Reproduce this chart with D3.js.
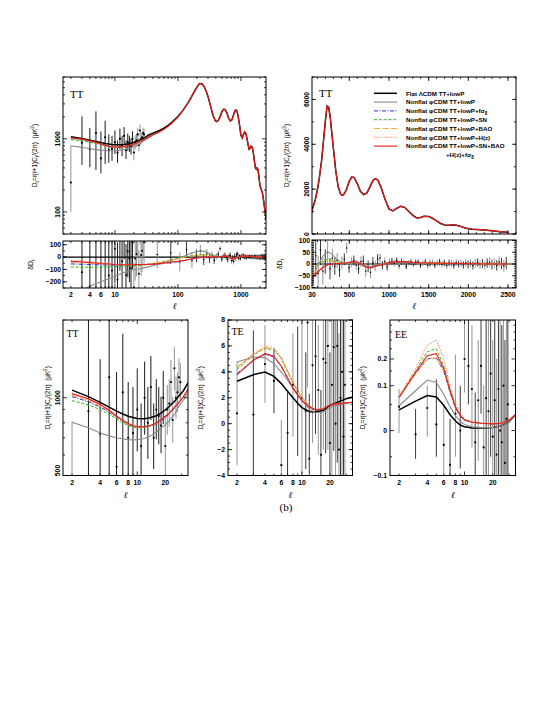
<!DOCTYPE html>
<html><head><meta charset="utf-8">
<script src="https://cdn.jsdelivr.net/npm/d3@7"></script>
<style>body{margin:0;background:#fff}</style>
</head><body>
<script>
// ---------------- DATA ----------------
const modelKeys = ['flat','gray','fs8','sn','bao','hz','all'];
const legendLabels = ['Flat ΛCDM TT+lowP','Nonflat φCDM TT+lowP','Nonflat φCDM TT+lowP+fσ8','Nonflat φCDM TT+lowP+SN','Nonflat φCDM TT+lowP+BAO','Nonflat φCDM TT+lowP+H(z)','Nonflat φCDM TT+lowP+SN+BAO'];
const legendExtra = '+H(z)+fσ8';

// full-range TT spectra (flat LCDM and joint fit)
const ttEll = [2,3,4,5,6,7,8,9,10,12,14,16,18,20,22,25,28,31,35,40,50,60,70,80,100,120,150,180,200,220,240,260,280,300,330,360,390,410,430,460,500,530,560,600,640,680,720,760,800,830,860,900,950,1000,1050,1100,1150,1200,1250,1300,1350,1400,1440,1500,1550,1600,1650,1700,1750,1800,1850,1900,1950,2000,2050,2100,2200,2300,2400,2500];
const ttFlat = [1070,1010,960,920,888,865,848,838,832,830,838,852,872,898,925,968,1015,1060,1140,1190,1290,1400,1530,1680,2020,2450,3250,4350,5100,5700,5650,5200,4500,3800,2800,2100,1780,1720,1760,1950,2350,2540,2520,2250,1900,1760,1820,2100,2400,2470,2400,2080,1550,1120,1030,1150,1240,1180,1000,830,720,740,790,780,700,580,470,400,385,400,390,340,280,235,215,205,180,140,105,80];
const ttAll = [1035,991,942,895,850,818,795,780,772,773,783,800,822,848,872,918,962,1005,1077,1135,1240,1355,1488,1642,1985,2425,3235,4342,5100,5700,5650,5200,4500,3800,2800,2100,1780,1720,1760,1950,2350,2540,2520,2250,1900,1760,1820,2100,2400,2470,2400,2080,1550,1120,1030,1150,1240,1180,1000,830,720,740,790,780,700,580,470,400,385,400,390,340,280,235,215,205,180,140,105,80];

// low-l TT spectra of the other models
const ttLowEll = [2,3,4,5,6,7,8,9,10,12,14,16,18,20,22,25,28,31,35,40,50,60,80,100];
const ttGray = [804,765,730,712,700,693,688,687,688,695,712,735,760,787,815,860,930,975,1045,1120,1235,1355,1655,2010];
const ttFs8  = [1010,965,920,878,840,810,790,778,772,770,778,794,815,840,866,910,955,1000,1080,1132,1235,1348,1635,1982];
const ttSn   = [975,938,900,862,828,800,782,770,765,766,778,795,818,845,870,915,960,1003,1078,1140,1250,1368,1662,2012];
const ttBao  = [1020,975,930,885,845,812,790,776,770,772,782,799,821,847,872,917,962,1005,1080,1138,1247,1365,1658,2008];
const ttHz   = [1042,985,938,890,848,815,793,779,771,772,782,799,821,847,871,916,961,1004,1077,1133,1237,1352,1640,1986];

// low-l TT data
const lowEll = [2,3,4,5,6,7,8,9,10,11,12,13,14,15,16,17,18,19,20,21,22,23,24,25,26,27,28,29];
const ttDataVal = [253,887,726,1200,540,1050,700,730,900,650,1000,800,1100,700,900,850,780,1000,650,900,950,1150,820,1300,1000,1050,1200,1150];
const ttDataLo  = [100,440,408,375,337,453,470,500,620,470,720,580,820,530,690,660,610,790,510,720,770,940,670,1070,830,880,1000,970];
const ttDataHi  = [810,2025,1410,2374,1260,1769,1150,1100,1300,950,1380,1100,1450,950,1180,1100,1010,1270,850,1120,1180,1400,1010,1570,1210,1250,1420,1360];
// low-l TT residuals w.r.t. flat LCDM
const lowResVal = [-817,-123,-234,280,-348,185,-148,-108,68,-181,170,-34,262,-145,48,-12,-92,115,-248,-11,25,211,-134,332,16,51,185,120];
const lowResLo  = [-970,-570,-552,-545,-551,-412,-378,-338,-212,-361,-110,-254,-18,-315,-162,-202,-262,-95,-388,-191,-155,1,-284,102,-154,-119,-15,-60];
const lowResHi  = [-260,1015,450,1454,372,904,302,262,468,119,550,266,612,105,328,238,138,385,-48,209,255,461,56,602,226,251,405,330];

// binned high-l TT residuals
const binEll = [47,77,107,137,167,197,227,257,287,317,347,377,407,437,467,497,527,557,587,617,647,677,707,737,767,797,827,857,887,917,947,977,1007,1037,1067,1097,1127,1157,1187,1217,1247,1277,1307,1337,1367,1397,1427,1457,1487,1517,1547,1577,1607,1637,1667,1697,1727,1757,1787,1817,1847,1877,1907,1937,1967,1997,2027,2057,2087,2117,2147,2177,2207,2237,2267,2297,2327,2357,2387,2417,2447,2477];
const binRes = [20,35,-40,60,-30,10,50,-20,25,-10,15,-25,5,20,68,-15,8,15,-5,-20,10,12,-30,-10,-35,5,-8,20,25,-5,10,-12,8,12,3,15,-8,10,6,-10,4,8,-3,7,10,-5,3,8,-6,2,6,-4,3,8,-2,4,-7,5,2,-5,6,0,3,-4,5,-2,4,-6,3,6,-3,2,-5,4,7,-2,3,-6,9,2,-8,4];
const binErr = [110,90,75,65,58,52,48,45,40,36,32,30,27,25,23,22,21,21,22,22,23,24,24,25,25,24,23,22,20,18,17,16,15,14,14,13,13,13,12,12,12,12,12,12,12,12,12,12,13,13,13,13,13,14,14,14,14,14,15,15,15,15,16,16,16,17,17,17,18,18,18,19,19,20,20,21,22,22,23,24,25,26];

// model residuals (delta D_l w.r.t. flat LCDM)
const resEll = [2,3,4,5,6,8,10,13,16,20,25,30,40,50,60,80,100,130,160,200,240,280,330,400,470,550,600,650,700,760,820,900,1000,1100,1200,1300,1400,1500,1700,1900,2100,2300,2500];
const resGray = [-300,-265,-235,-215,-200,-175,-155,-130,-115,-103,-95,-85,-70,-55,-45,-25,-10,10,30,45,50,42,25,8,0,8,8,2,-8,-12,-6,0,5,8,7,5,3,2,1,1,0,0,0];
const resFs8 = [-55,-58,-60,-62,-63,-64,-64,-63,-62,-61,-60,-60,-58,-55,-52,-45,-38,-28,-18,-8,-2,0,1,2,4,8,6,-1,-13,-18,-11,-4,5,9,9,6,4,3,2,1,1,0,0];
const resSn  = [-80,-82,-83,-83,-82,-80,-77,-74,-72,-70,-67,-63,-52,-44,-36,-22,-10,3,12,18,20,16,10,4,4,9,7,0,-12,-17,-10,-3,6,10,10,7,5,4,3,2,1,0,0];
const resBao = [-40,-44,-48,-52,-55,-58,-60,-61,-61,-60,-60,-60,-53,-45,-38,-24,-13,0,8,14,15,12,7,3,4,9,7,0,-12,-17,-10,-3,6,10,10,7,5,4,3,2,1,0,0];
const resHz  = [-28,-33,-38,-43,-47,-53,-57,-60,-61,-61,-60,-60,-57,-53,-48,-40,-34,-25,-16,-7,-1,0,1,3,5,10,8,0,-12,-17,-10,-3,6,10,10,7,5,4,3,2,1,0,0];
const resAll = [-35,-40,-45,-48,-52,-56,-60,-62,-62,-61,-60,-60,-57,-53,-48,-40,-34,-25,-16,-7,-1,0,1,3,5,10,8,0,-12,-17,-10,-3,6,10,10,7,5,4,3,2,1,0,0];

// TE low-l
const teEll = [2,3,4,5,6,7,8,9,10,12,14,17,20,25,30,35];
const teFlat = [3.27,3.78,3.98,3.65,3.09,2.5,2.0,1.58,1.24,0.92,0.9,1.03,1.41,1.7,1.93,2.05];
const teGray = [4.76,5.14,5.1,4.63,3.98,3.35,2.78,2.25,1.8,1.12,0.84,0.9,1.26,1.45,1.6,1.65];
const teFs8  = [3.85,4.9,5.35,5.15,4.4,3.5,2.72,2.18,1.78,1.28,1.04,1.14,1.44,1.55,1.6,1.65];
const teSn   = [4.2,5.3,5.8,5.7,5.0,4.0,3.15,2.5,2.0,1.35,1.05,1.15,1.45,1.55,1.6,1.65];
const teBao  = [4.3,5.35,5.85,5.75,5.05,4.05,3.2,2.52,2.02,1.36,1.06,1.15,1.45,1.55,1.6,1.65];
const teHz   = [4.35,5.4,5.95,5.85,5.1,4.1,3.25,2.55,2.05,1.37,1.06,1.15,1.45,1.55,1.6,1.65];
const teAll  = [3.78,4.89,5.4,5.2,4.43,3.55,2.75,2.2,1.8,1.3,1.05,1.15,1.45,1.55,1.6,1.65];
const teDataVal = [0.8,0.7,4.6,3.3,-3.2,-0.7,3.0,2.5,2.0,1.0,7.8,-2.7,4.5,5.2,2.6,-2.4,5.0,4.7,6.0,-1.5,3.0,5.9,0.0,6.0,-2.0,2.0,4.0,-1.0,3.0];
const teDataErr = [4.0,6.5,3.0,2.5,3.5,3.3,4.0,5.0,6.0,4.5,5.0,5.0,6.0,6.0,5.0,5.0,7.0,7.0,8.0,7.0,8.0,8.0,8.0,9.0,9.0,9.0,10.0,10.0,10.0];
const teDataEll = [2,3,4,5,6,7,8,9,10,11,11.5,12,13,14,15,16,17,18,19,20,21,22,23,24,25,26,27,28,29];

// EE low-l
const eeEll = [2,3,4,5,6,7,8,9,10,12,15,20,25,30,35];
const eeFlat = [0.038,0.058,0.072,0.068,0.048,0.028,0.016,0.009,0.006,0.004,0.004,0.005,0.008,0.015,0.028];
const eeGray = [0.047,0.085,0.118,0.11,0.075,0.045,0.026,0.015,0.010,0.006,0.005,0.005,0.008,0.015,0.028];
const eeFs8  = [0.067,0.14,0.20,0.205,0.15,0.08,0.042,0.025,0.018,0.014,0.012,0.011,0.012,0.018,0.028];
const eeSn   = [0.068,0.15,0.235,0.25,0.17,0.09,0.046,0.027,0.019,0.014,0.012,0.011,0.012,0.018,0.028];
const eeBao  = [0.066,0.14,0.20,0.205,0.15,0.085,0.045,0.027,0.019,0.014,0.012,0.011,0.012,0.018,0.028];
const eeHz   = [0.07,0.16,0.27,0.30,0.20,0.10,0.05,0.03,0.02,0.015,0.013,0.011,0.012,0.018,0.028];
const eeAll  = [0.067,0.145,0.215,0.225,0.16,0.085,0.044,0.026,0.018,0.014,0.012,0.011,0.012,0.018,0.028];
const eeDataVal = [0.045,-0.006,0.042,0.01,-0.025,-0.07,0.03,0.0,0.2,0.17,0.09,-0.02,0.06,0.17,-0.03,0.065,0.035,0.14,-0.01,0.06,-0.045,0.09,0.0,-0.02,0.1,-0.065,0.02,0.05];
const eeDataLo  = [-0.004,-0.055,-0.01,-0.05,-0.1,-0.15,-0.05,-0.08,0.08,0.05,-0.03,-0.15,-0.06,0.03,-0.2,-0.1,-0.12,-0.05,-0.2,-0.15,-0.25,-0.12,-0.2,-0.3,-0.15,-0.3,-0.25,-0.2];
const eeDataHi  = [0.09,0.04,0.1,0.12,0.05,0.02,0.22,0.1,0.6,0.5,0.4,0.08,0.3,0.6,0.1,0.6,0.5,0.8,0.3,0.7,0.2,0.8,0.5,0.4,0.8,0.3,0.7,0.8];

// tick labels
const p1YTicks = [100,1000];
const p2YTicks = [-200,-100,0,100];
const p2XTicks = [2,4,6,10,100,1000];
const p3YTicks = [0,2000,4000,6000];
const p4YTicks = [-100,-50,0,50,100];
const p4XTicks = [30,500,1000,1500,2000,2500];
const lowXTicks = [2,4,6,8,10,20];
const p5YTicks = [500,1000];
const p6YTicks = [-4,-2,0,2,4,6,8];
const p7YTicks = [-0.1,0,0.1,0.2];

// ---------------- STYLE ----------------
const COL = {flat:'#000000', gray:'#8a8a8a', fs8:'#1f2fd6', sn:'#2cb81c', bao:'#ffaa33', hz:'#ff7a4a', all:'#ec1c1c'};
const DASH = {flat:null, gray:null, fs8:'4,1.5,1,1.5', sn:'3,1.8', bao:'6,2.5', hz:'1,1.4', all:null};
const WID = {flat:1.5, gray:1.1, fs8:1, sn:1, bao:1, hz:1.1, all:1.1};
const FONT = "'Liberation Sans', Arial, sans-serif";
const SERIF = "'Liberation Serif','Times New Roman',serif";

const svg = d3.select('body').append('svg').attr('width',545).attr('height',705);
svg.append('rect').attr('width',545).attr('height',705).attr('fill','#fff');

let clipN = 0;
function panel(b){
  const id = 'cp'+(clipN++);
  svg.append('clipPath').attr('id',id).append('rect')
    .attr('x',b.x0).attr('y',b.y0).attr('width',b.x1-b.x0).attr('height',b.y1-b.y0);
  return svg.append('g').attr('clip-path',`url(#${id})`);
}
function frame(b){
  svg.append('rect').attr('x',b.x0).attr('y',b.y0).attr('width',b.x1-b.x0).attr('height',b.y1-b.y0)
    .attr('fill','none').attr('stroke','#000').attr('stroke-width',1);
}
function ticks(b, sx, sy, xMaj, xMin, yMaj, yMin){
  let p = '';
  const addX = (v,len)=>{const x=sx(v); if(!(x>=b.x0-0.01 && x<=b.x1+0.01)) return; p += `M${x},${b.y1}v${-len}M${x},${b.y0}v${len}`;};
  const addY = (v,len)=>{const y=sy(v); if(!(y>=b.y0-0.01 && y<=b.y1+0.01)) return; p += `M${b.x0},${y}h${len}M${b.x1},${y}h${-len}`;};
  xMaj.forEach(v=>addX(v,4)); xMin.forEach(v=>addX(v,2));
  yMaj.forEach(v=>addY(v,4)); yMin.forEach(v=>addY(v,2));
  svg.append('path').attr('d',p).attr('stroke','#000').attr('stroke-width',0.8).attr('fill','none');
}
function logMinors(lo,hi){const out=[];for(let e=Math.floor(Math.log10(lo));e<=Math.ceil(Math.log10(hi));e++){for(let m=2;m<=9;m++){const v=m*Math.pow(10,e);if(v>=lo&&v<=hi)out.push(v);}}return out;}
function logMajors(lo,hi){const out=[];for(let e=Math.floor(Math.log10(lo));e<=Math.ceil(Math.log10(hi));e++){const v=Math.pow(10,e);if(v>=lo&&v<=hi)out.push(v);}return out;}
function stepVals(lo,hi,st){const out=[];for(let v=lo;v<=hi+1e-9;v+=st)out.push(+v.toFixed(6));return out;}

function drawLine(g, sx, sy, xs, ys, key){
  g.append('path').datum(xs.map((x,i)=>[x,ys[i]]))
    .attr('d', d3.line().x(d=>sx(d[0])).y(d=>sy(d[1])))
    .attr('fill','none').attr('stroke',COL[key]).attr('stroke-width',WID[key])
    .attr('stroke-dasharray',DASH[key]);
}
function errBars(g, sx, sy, xs, lo, hi, colFn){
  g.selectAll(null).data(xs).enter().append('line')
    .attr('x1',d=>sx(d)).attr('x2',d=>sx(d))
    .attr('y1',(d,i)=>sy(lo[i])).attr('y2',(d,i)=>sy(hi[i]))
    .attr('stroke',(d,i)=>colFn(i)).attr('stroke-width',0.9);
}
function dots(g, sx, sy, xs, ys, r){
  g.selectAll(null).data(xs).enter().append('circle')
    .attr('cx',d=>sx(d)).attr('cy',(d,i)=>sy(ys[i])).attr('r',r||1.1).attr('fill','#000');
}
const fmt = v => (v<0?'\u2212':'') + Math.abs(v);
function label(x,y,s,anchor,size,rot,weight){
  const t = svg.append('text').attr('x',x).attr('y',y).text(s)
    .attr('font-family',FONT).attr('font-size',size||6.8).attr('font-weight',weight||'bold')
    .attr('text-anchor',anchor||'middle');
  if(rot) t.attr('transform',`rotate(${rot},${x},${y})`);
  return t;
}
function rich(x,y,parts,size,rot,anchor,family,weight){
  const t = svg.append('text').attr('x',x).attr('y',y).attr('font-family',family||FONT)
    .attr('font-size',size).attr('text-anchor',anchor||'middle').attr('font-weight',weight||'normal')
    .attr('xml:space','preserve');
  let shift = 0;
  parts.forEach(p=>{
    const target = p[1]==='sub' ? size*0.3 : p[1]==='sup' ? -size*0.4 : 0;
    t.append('tspan').attr('dy', target-shift).attr('font-size', p[1]? size*0.72 : size)
      .attr('font-style', p[2]||null).text(p[0]);
    shift = target;
  });
  if(rot) t.attr('transform',`rotate(${rot},${x},${y})`);
  return t;
}
const yTitleParts = [['D'],['ℓ','sub'],['=ℓ(ℓ+1)C'],['ℓ','sub'],['/(2π)  (μK'],['2','sup'],[')']];
function yTitle(x,y){ rich(x,y,yTitleParts,6.3,-90,'middle',FONT,'normal'); }
function ellLabel(x,y){ svg.append('text').attr('x',x).attr('y',y).text('ℓ').attr('font-family',SERIF)
  .attr('font-style','italic').attr('font-size',9).attr('text-anchor','middle'); }
function panelTitle(x,y,s,size){ svg.append('text').attr('x',x).attr('y',y).text(s).attr('font-family',SERIF)
  .attr('font-size',size).attr('text-anchor','start'); }

// ---------------- PANELS ----------------
const B1 = {x0:63,x1:266,y0:77,y1:234};
const B2 = {x0:63,x1:266,y0:241,y1:288};
const B3 = {x0:312,x1:516,y0:77,y1:234};
const B4 = {x0:312,x1:516,y0:240,y1:288};
const B5 = {x0:63,x1:188,y0:320,y1:475.5};
const B6 = {x0:228,x1:352.5,y0:320,y1:475.5};
const B7 = {x0:390,x1:515.5,y0:320,y1:475.5};

const x1 = d3.scaleLog().domain([1.5,2500]).range([B1.x0,B1.x1]);
const y1 = d3.scaleLog().domain([50,7000]).range([B1.y1,B1.y0]);
const y2 = d3.scaleLinear().domain([-250,130]).range([B2.y1,B2.y0]);
const x3 = d3.scaleLinear().domain([30,2600]).range([B3.x0,B3.x1]);
const y3 = d3.scaleLinear().domain([0,7000]).range([B3.y1,B3.y0]);
const y4 = d3.scaleLinear().domain([-102,102]).range([B4.y1,B4.y0]);
const x5 = d3.scaleLog().domain([1.6,35]).range([B5.x0,B5.x1]);
const x6 = d3.scaleLog().domain([1.6,35]).range([B6.x0,B6.x1]);
const x7 = d3.scaleLog().domain([1.6,35]).range([B7.x0,B7.x1]);
const y5 = d3.scaleLog().domain([500,2000]).range([B5.y1,B5.y0]);
const y6 = d3.scaleLinear().domain([-4,8]).range([B6.y1,B6.y0]);
const y7 = d3.scaleSymlog().constant(0.105).domain([-0.1,0.44]).range([B7.y1,B7.y0]);

const lowModels = {gray:ttGray, fs8:ttFs8, sn:ttSn, bao:ttBao, hz:ttHz};
const resModels = {gray:resGray, fs8:resFs8, sn:resSn, bao:resBao, hz:resHz, all:resAll};
const teModels = {flat:teFlat, gray:teGray, fs8:teFs8, sn:teSn, bao:teBao, hz:teHz, all:teAll};
const eeModels = {flat:eeFlat, gray:eeGray, fs8:eeFs8, sn:eeSn, bao:eeBao, hz:eeHz, all:eeAll};
const ttBarCol = i => (i===0 || lowEll[i]>=20) ? '#8a8a8a' : '#000';
const altCol = i => (i%2===0) ? '#8a8a8a' : '#222';

// Panel 1: TT full, log-log
{
  const g = panel(B1);
  errBars(g,x1,y1,lowEll,ttDataLo,ttDataHi,ttBarCol);
  dots(g,x1,y1,lowEll,ttDataVal,1.1);
  ['gray','fs8','sn','bao','hz'].forEach(k=>drawLine(g,x1,y1,ttLowEll,lowModels[k],k));
  drawLine(g,x1,y1,ttEll,ttFlat,'flat');
  drawLine(g,x1,y1,ttEll,ttAll,'all');
  frame(B1);
  ticks(B1,x1,y1,logMajors(1.5,2500),logMinors(1.5,2500),logMajors(50,7000),logMinors(50,7000));
  p1YTicks.forEach(v=>label(B1.x0-3,y1(v),String(v),'middle',6.8,-90));
  yTitle(37,(B1.y0+B1.y1)/2);
  panelTitle(70,97.5,'TT',11);
}
// Panel 2: TT residual, log x
{
  const g = panel(B2);
  g.append('line').attr('x1',B2.x0).attr('x2',B2.x1).attr('y1',y2(0)).attr('y2',y2(0)).attr('stroke','#000').attr('stroke-width',1.1);
  errBars(g,x1,y2,lowEll,lowResLo,lowResHi,ttBarCol);
  dots(g,x1,y2,lowEll,lowResVal,1);
  errBars(g,x1,y2,binEll,binRes.map((v,i)=>v-binErr[i]),binRes.map((v,i)=>v+binErr[i]),altCol);
  dots(g,x1,y2,binEll,binRes,0.8);
  ['gray','fs8','sn','bao','hz','all'].forEach(k=>drawLine(g,x1,y2,resEll,resModels[k],k));
  frame(B2);
  ticks(B2,x1,y2,logMajors(1.5,2500),logMinors(1.5,2500),p2YTicks,stepVals(-250,130,50));
  p2YTicks.forEach(v=>label(B2.x0-2,y2(v)+2.4,fmt(v),'end',6.8));
  p2XTicks.forEach(v=>label(x1(v),B2.y1+9,String(v),'middle',6.8));
  ellLabel((B2.x0+B2.x1)/2+10,309);
  rich(33,(B2.y0+B2.y1)/2,[['δD'],['ℓ','sub']],7,-90,'middle',FONT,'normal');
}
// Panel 3: TT full, linear
{
  const g = panel(B3);
  drawLine(g,x3,y3,ttEll,ttFlat,'flat');
  drawLine(g,x3,y3,ttEll,ttAll,'all');
  frame(B3);
  ticks(B3,x3,y3,stepVals(500,2500,500),stepVals(100,2600,100),p3YTicks,stepVals(0,7000,1000));
  p3YTicks.forEach(v=>label(B3.x0-3,y3(v),String(v),'middle',6.8,-90));
  yTitle(289,(B3.y0+B3.y1)/2);
  panelTitle(319,96.5,'TT',11);
  // legend
  const lx0=374, lx1=397, tx=406;
  modelKeys.forEach((k,i)=>{
    const yy = 93.3 + i*8.8;
    svg.append('line').attr('x1',lx0).attr('x2',lx1).attr('y1',yy).attr('y2',yy)
      .attr('stroke',COL[k]).attr('stroke-width',WID[k]).attr('stroke-dasharray',DASH[k]);
    const s = legendLabels[i];
    if(s.endsWith('σ8')) rich(tx,yy+2.2,[[s.slice(0,-1)],['8','sub']],6.2,0,'start',FONT,'bold');
    else label(tx,yy+2.2,s,'start',6.2,0,'bold');
  });
  rich(446,93.3+7*8.8+2.2,[['+H(z)+fσ'],['8','sub']],6.2,0,'start',FONT,'bold');
}
// Panel 4: TT residual, linear
{
  const g = panel(B4);
  g.append('line').attr('x1',B4.x0).attr('x2',B4.x1).attr('y1',y4(0)).attr('y2',y4(0)).attr('stroke','#000').attr('stroke-width',1.1);
  errBars(g,x3,y4,binEll,binRes.map((v,i)=>v-binErr[i]),binRes.map((v,i)=>v+binErr[i]),altCol);
  dots(g,x3,y4,binEll,binRes,0.8);
  ['gray','fs8','sn','bao','hz','all'].forEach(k=>drawLine(g,x3,y4,resEll,resModels[k],k));
  frame(B4);
  ticks(B4,x3,y4,stepVals(500,2500,500),stepVals(100,2600,100),p4YTicks,stepVals(-100,100,10));
  p4YTicks.forEach(v=>label(B4.x0-2,y4(v)+2.4,fmt(v),'end',6.8));
  p4XTicks.forEach(v=>label(x3(v),B4.y1+9,String(v),'middle',6.8));
  ellLabel((B4.x0+B4.x1)/2,309);
  rich(282,(B4.y0+B4.y1)/2,[['δD'],['ℓ','sub']],7,-90,'middle',FONT,'normal');
}
// Panel 5: low-l TT
{
  const g = panel(B5);
  errBars(g,x5,y5,lowEll,ttDataLo,ttDataHi,ttBarCol);
  dots(g,x5,y5,lowEll,ttDataVal,1.1);
  ['gray','fs8','sn','bao','hz'].forEach(k=>drawLine(g,x5,y5,ttLowEll,lowModels[k],k));
  drawLine(g,x5,y5,ttEll,ttFlat,'flat');
  drawLine(g,x5,y5,ttEll,ttAll,'all');
  frame(B5);
  ticks(B5,x5,y5,[10],logMinors(1.6,35),[1000],logMinors(500,2000));
  p5YTicks.forEach(v=>label(B5.x0-3,v===500?y5(v)-5:y5(v),String(v),'middle',6.8,-90));
  lowXTicks.forEach(v=>label(x5(v),B5.y1+9.5,String(v),'middle',6.8));
  ellLabel((B5.x0+B5.x1)/2,498);
  yTitle(50,(B5.y0+B5.y1)/2);
  panelTitle(66.5,336.5,'TT',10);
}
// Panel 6: TE
{
  const g = panel(B6);
  errBars(g,x6,y6,teDataEll,teDataVal.map((v,i)=>v-teDataErr[i]),teDataVal.map((v,i)=>v+teDataErr[i]),altCol);
  dots(g,x6,y6,teDataEll,teDataVal,1.1);
  ['flat','gray','fs8','sn','bao','hz','all'].forEach(k=>drawLine(g,x6,y6,teEll,teModels[k],k));
  frame(B6);
  ticks(B6,x6,y6,[10],logMinors(1.6,35),p6YTicks,stepVals(-4,8,0.5));
  p6YTicks.forEach(v=>label(B6.x0-3,y6(v)+2.4,fmt(v),'end',6.8));
  lowXTicks.forEach(v=>label(x6(v),B6.y1+9.5,String(v),'middle',6.8));
  ellLabel((B6.x0+B6.x1)/2,498);
  yTitle(203,(B6.y0+B6.y1)/2);
  panelTitle(231.5,335,'TE',10);
}
// Panel 7: EE
{
  const g = panel(B7);
  errBars(g,x7,y7,lowEll,eeDataLo,eeDataHi,altCol);
  dots(g,x7,y7,lowEll,eeDataVal,1.1);
  ['flat','gray','fs8','sn','bao','hz','all'].forEach(k=>drawLine(g,x7,y7,eeEll,eeModels[k],k));
  frame(B7);
  ticks(B7,x7,y7,[10],logMinors(1.6,35),p7YTicks,[-0.05,0.05,0.15,0.25,0.3,0.35,0.4]);
  p7YTicks.forEach(v=>label(B7.x0-3,y7(v)+2.4,fmt(v),'end',6.8));
  lowXTicks.forEach(v=>label(x7(v),B7.y1+9.5,String(v),'middle',6.8));
  ellLabel((B7.x0+B7.x1)/2,498);
  yTitle(365,(B7.y0+B7.y1)/2);
  panelTitle(395,337.5,'EE',10);
}
svg.append('text').attr('x',286).attr('y',511).text('(b)').attr('font-family',SERIF)
  .attr('font-size',11).attr('text-anchor','middle');
</script>
</body></html>
